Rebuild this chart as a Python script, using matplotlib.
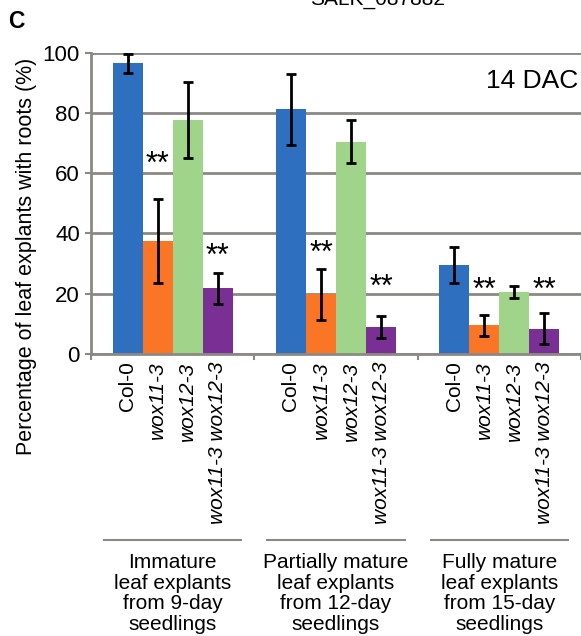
import matplotlib
matplotlib.use("Agg")
import matplotlib.pyplot as plt
import numpy as np

plt.rcParams['font.family'] = ['Liberation Sans', 'DejaVu Sans']

# data
groups = ["Immature\nleaf explants\nfrom 9-day\nseedlings",
          "Partially mature\nleaf explants\nfrom 12-day\nseedlings",
          "Fully mature\nleaf explants\nfrom 15-day\nseedlings"]
genotypes = ["Col-0", "wox11-3", "wox12-3", "wox11-3 wox12-3"]
italic = [False, True, True, True]
values = {
    "Col-0":           [96.5, 81.2, 29.6],
    "wox11-3":         [37.5, 19.8, 9.6],
    "wox12-3":         [77.7, 70.4, 20.6],
    "wox11-3 wox12-3": [21.8, 8.9, 8.4],
}
errors = {
    "Col-0":           [3.2, 11.7, 5.9],
    "wox11-3":         [14.0, 8.5, 3.5],
    "wox12-3":         [12.7, 7.1, 2.0],
    "wox11-3 wox12-3": [5.2, 3.6, 5.2],
}
# significance marks (group index, genotype index, y position)
stars = [(0, 1, 62.8), (0, 3, 32.1), (1, 1, 33.3), (1, 3, 21.8), (2, 1, 21.0), (2, 3, 21.0)]
colors = ["#2E70BF", "#FA7525", "#A1D48B", "#7A2F95"]
grey = "#8C8984"

fig = plt.figure(figsize=(5.81, 6.36), dpi=100)
ax = fig.add_axes([91 / 581, 1 - 354 / 636, 490 / 581, (354 - 52.7) / 636])

width = 30 / 163
centers = np.arange(len(groups)) + 0.5
for j, g in enumerate(genotypes):
    xs = centers + (j - 1.5) * width
    ax.bar(xs, values[g], width, color=colors[j], zorder=3)
    ax.errorbar(xs, values[g], yerr=errors[g], fmt="none", ecolor="black",
                elinewidth=2, capsize=3.5, capthick=2, zorder=4)

for gi, j, y in stars:
    x = centers[gi] + (j - 1.5) * width
    ax.text(x, y, "**", ha="center", va="center", fontsize=22, zorder=5)

ax.set_xlim(0, 3)
ax.set_ylim(0, 100)
ax.set_yticks(np.arange(0, 101, 20))
ax.set_xticks([0, 1, 2, 3])
ax.set_xticklabels([])
ax.yaxis.grid(True, color=grey, linewidth=2, zorder=0)
ax.set_axisbelow(True)
for s in ["top", "right"]:
    ax.spines[s].set_visible(False)
for s in ["left", "bottom"]:
    ax.spines[s].set_color(grey)
    ax.spines[s].set_linewidth(2)
    ax.spines[s].set_zorder(5)
ax.tick_params(axis="both", color=grey, width=1.5, length=4, labelsize=16, pad=4)

ax.text(-64 / 490, (354 - 256) / 301.3, "Percentage of leaf explants with roots (%)",
        transform=ax.transAxes, rotation=90, ha="center", va="center", fontsize=15.5)

ax.text(0.995, 0.905, "14 DAC", transform=ax.transAxes, ha="right", va="center", fontsize=19)

# rotated genotype labels under each bar
trans = ax.get_xaxis_transform()
for gi in range(len(groups)):
    for j, g in enumerate(genotypes):
        x = centers[gi] + (j - 1.5) * width
        ax.text(x, -0.025, g, transform=trans, rotation=90, ha="center", va="top",
                fontsize=15, style="italic" if italic[j] else "normal")
    # bracket line and group label
    ax.plot([centers[gi] - 0.42, centers[gi] + 0.42], [-0.617, -0.617], transform=trans,
            color=grey, linewidth=1.5, clip_on=False)
    ax.text(centers[gi], -0.662, groups[gi], transform=trans, ha="center", va="top",
            fontsize=15, linespacing=1.1)

fig.text(8 / 581, 1 - 28 / 636, "C", fontsize=16.5, fontweight="bold", ha="left", va="baseline")
fig.text(377 / 581, 1 - 5 / 636, "SALK_087882", fontsize=15, ha="center", va="baseline")

fig.savefig("out.png", dpi=100)
